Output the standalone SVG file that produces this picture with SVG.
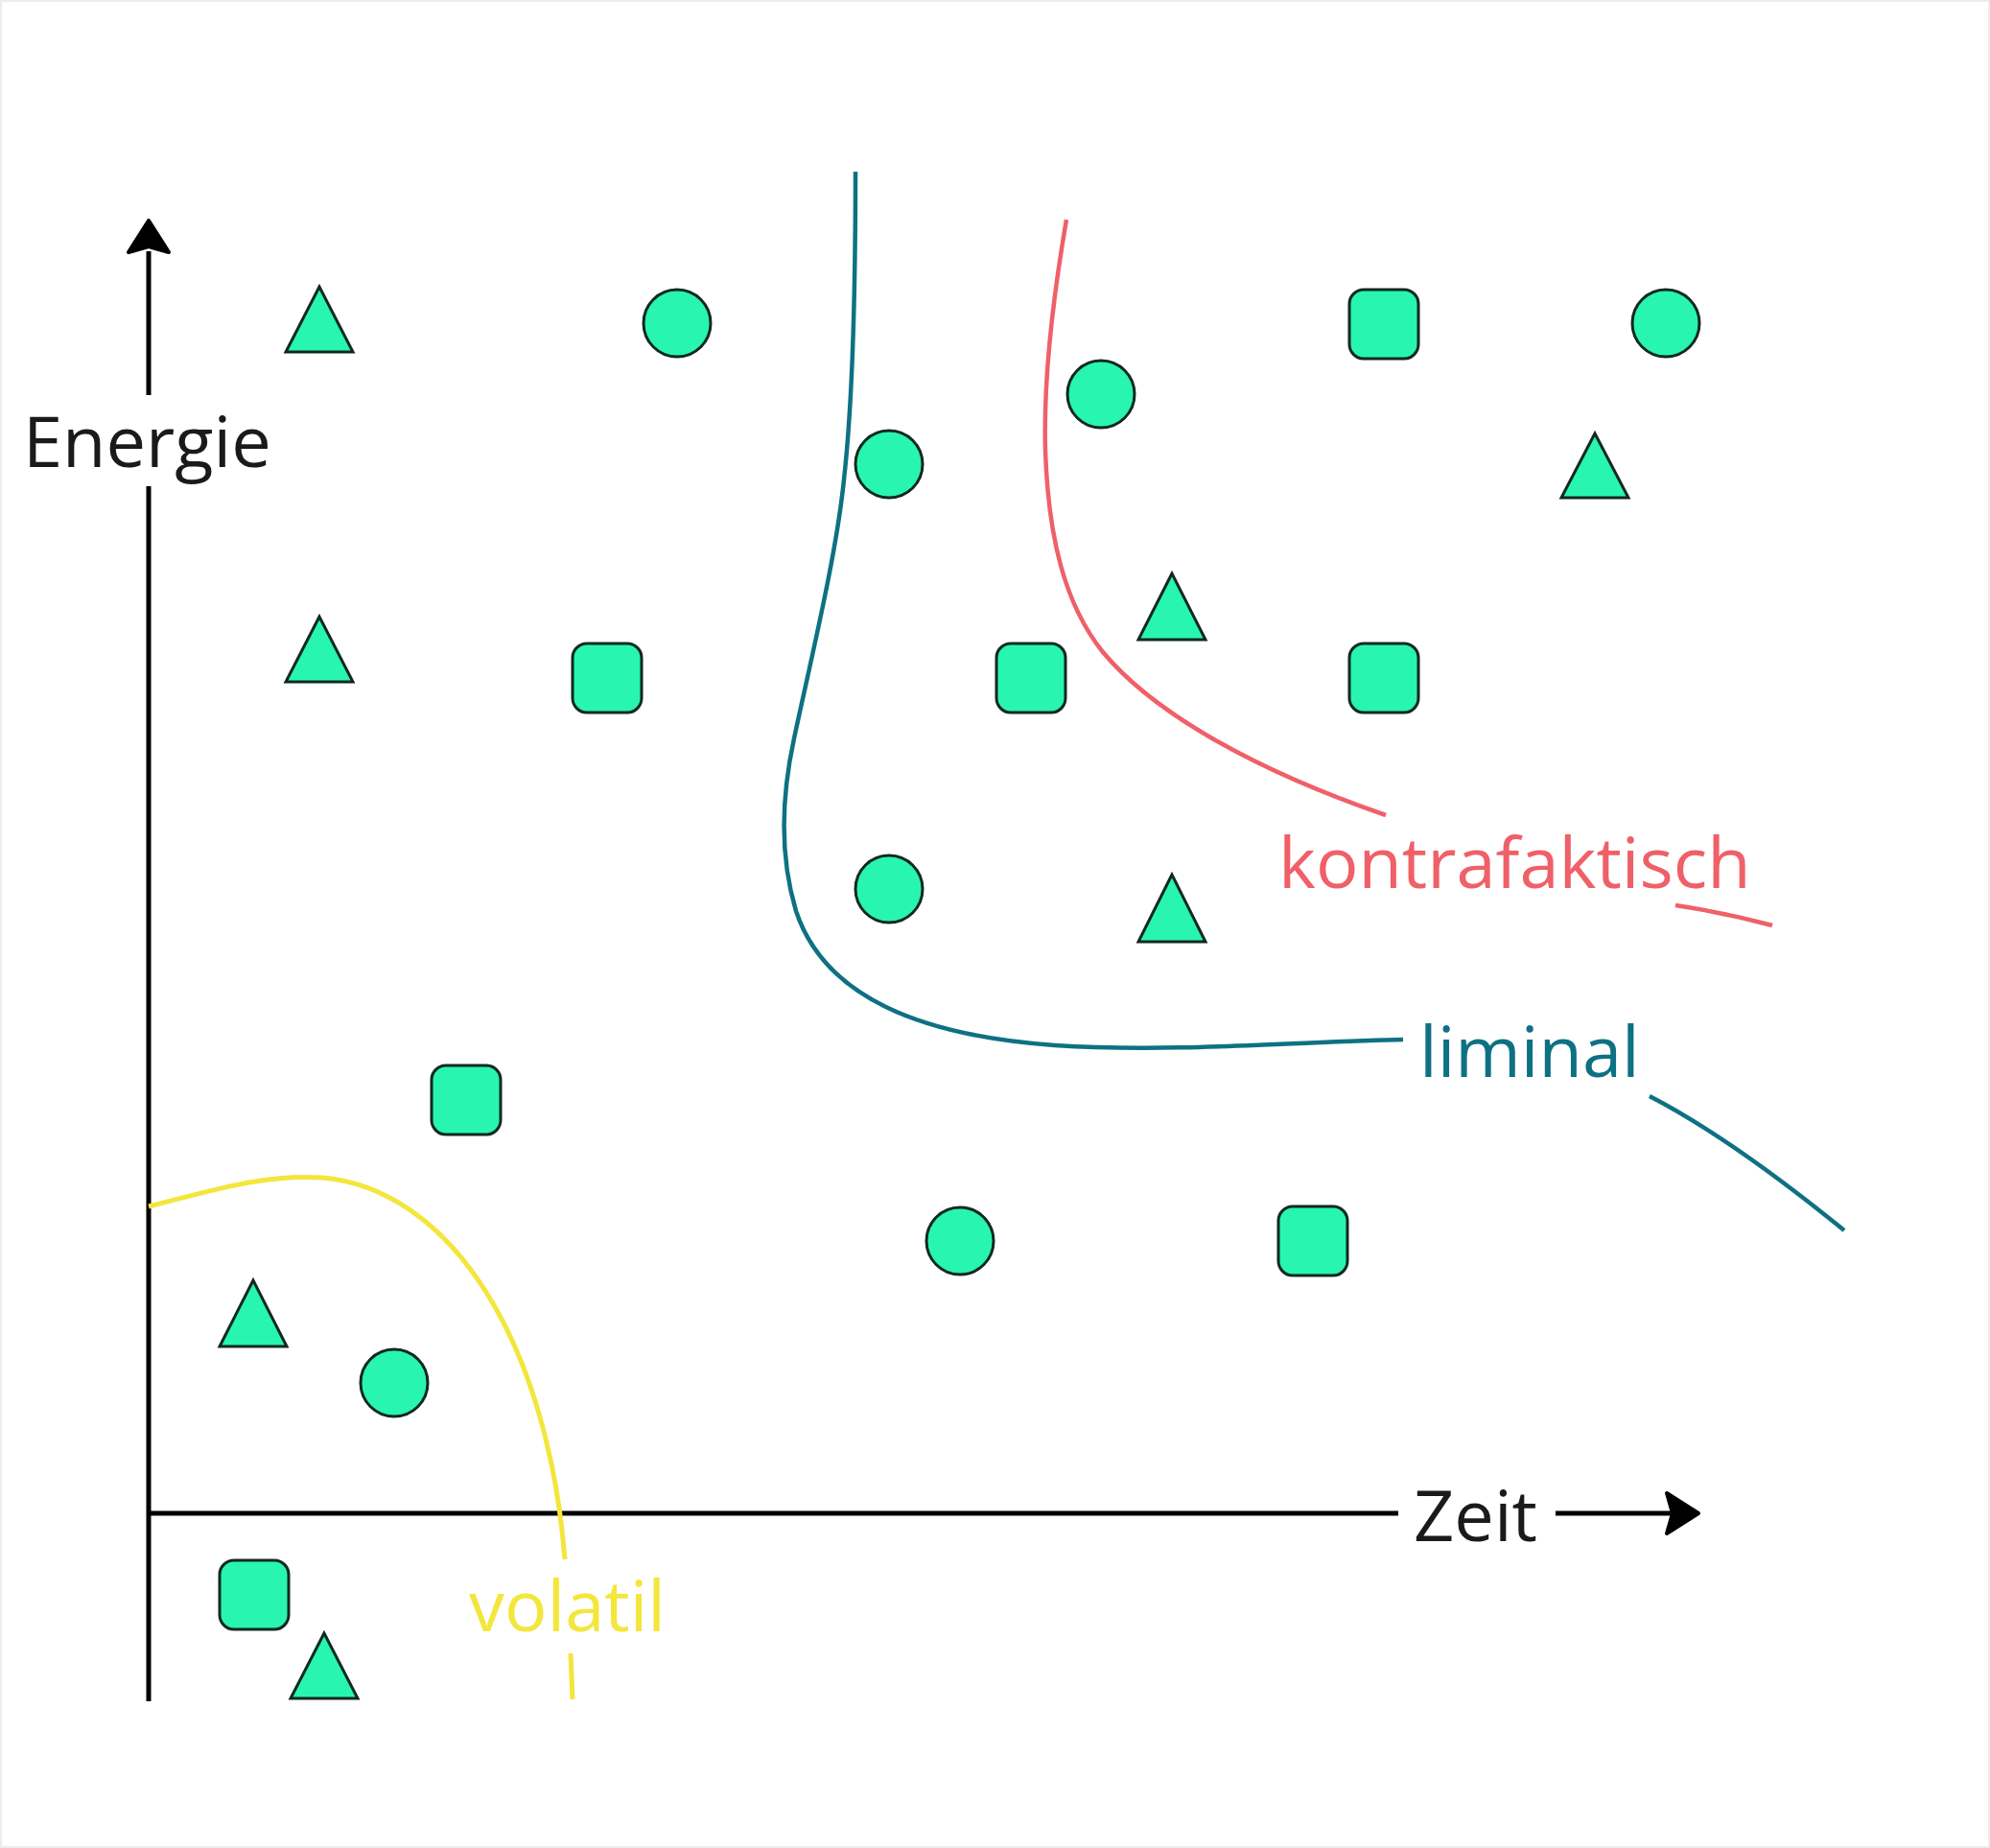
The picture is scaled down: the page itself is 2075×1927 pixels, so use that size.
<svg xmlns="http://www.w3.org/2000/svg" width="2075" height="1927" viewBox="0 0 2075 1927">
  <defs>
    <style>
      .tri, .cir, .sq { fill: #27f5b0; stroke: #10291f; stroke-width: 3; stroke-linejoin: miter; }
      .axis { stroke: #000; stroke-width: 5; fill: none; }
      .head { fill: #000; stroke: #000; stroke-width: 4; stroke-linejoin: round; }
      .lbl { font-family: "Open Sans", "Noto Sans", "Liberation Sans", sans-serif; font-size: 74px; }
      .teal { stroke: #0e7183; stroke-width: 4.5; fill: none; }
      .red { stroke: #ef6068; stroke-width: 4.5; fill: none; }
      .yellow { stroke: #f3e63c; stroke-width: 5; fill: none; }
    </style>
  </defs>
  <rect x="0" y="0" width="2075" height="1927" fill="#ffffff"/>
  <rect x="1" y="1" width="2073" height="1925" fill="none" stroke="#ececec" stroke-width="2"/>

  <g id="connectors">
    <!-- axes -->
    <path class="axis" d="M155,262 L155,412 M155,507 L155,1774"/>
    <path class="head" d="M155,230 L134,263 L155,257 L176,263 Z"/>
    <path class="axis" d="M153,1578 L1458,1578 M1622,1578 L1745,1578"/>
    <path class="head" d="M1771,1578 L1738,1557 L1744,1578 L1738,1599 Z"/>
    <!-- liminal boundary -->
    <path class="teal" d="M892,179 C892,300 889,420 880,500 C872,580 845,690 828,770 C815,830 812,890 830,950 C860,1040 960,1080 1100,1090 C1220,1098 1360,1086 1463,1084"/>
    <path class="teal" d="M1720,1143 Q1805,1187 1923,1283"/>
    <!-- kontrafaktisch boundary -->
    <path class="red" d="M1112,229 C1098,310 1088,400 1090,470 C1093,560 1110,630 1150,680 C1200,740 1300,800 1445,850"/>
    <path class="red" d="M1747,944 Q1800,952 1848,965"/>
    <!-- volatil boundary -->
    <path class="yellow" d="M155,1258 C225,1240 280,1224 335,1228 C465,1238 570,1390 589,1626"/>
    <path class="yellow" d="M595,1724 L597,1772"/>
  </g>

  <g id="labels">
    <text id="label-energie" class="lbl" x="24" y="487" fill="#1a1a1a">Energie</text>
    <text id="label-zeit" class="lbl" x="1474" y="1607" fill="#1a1a1a">Zeit</text>
    <text id="label-liminal" class="lbl" x="1480" y="1123" fill="#0e7183">liminal</text>
    <text id="label-kontrafaktisch" class="lbl" x="1333" y="926" fill="#ef6068">kontrafaktisch</text>
    <text id="label-volatil" class="lbl" x="489" y="1701" fill="#f3e63c">volatil</text>
  </g>

  <g id="triangles">
    <g id="tri1"><polygon class="tri" points="333,299 298,367 368,367"/></g>
    <g id="tri2"><polygon class="tri" points="333,643 298,711 368,711"/></g>
    <g id="tri3"><polygon class="tri" points="264,1335 229,1404 299,1404"/></g>
    <g id="tri4"><polygon class="tri" points="338,1703 303,1771 373,1771"/></g>
    <g id="tri5"><polygon class="tri" points="1222,598 1187,667 1257,667"/></g>
    <g id="tri6"><polygon class="tri" points="1222,912 1187,982 1257,982"/></g>
    <g id="tri7"><polygon class="tri" points="1663,452 1628,519 1698,519"/></g>
  </g>

  <g id="circles">
    <g id="cir1"><circle class="cir" cx="706" cy="337" r="35"/></g>
    <g id="cir2"><circle class="cir" cx="927" cy="484" r="35"/></g>
    <g id="cir3"><circle class="cir" cx="1148" cy="411" r="35"/></g>
    <g id="cir4"><circle class="cir" cx="1737" cy="337" r="35"/></g>
    <g id="cir5"><circle class="cir" cx="927" cy="927" r="35"/></g>
    <g id="cir6"><circle class="cir" cx="1001" cy="1294" r="35"/></g>
    <g id="cir7"><circle class="cir" cx="411" cy="1442" r="35"/></g>
  </g>

  <g id="squares">
    <g id="sq1"><rect class="sq" x="1407" y="302" width="72" height="72" rx="15"/></g>
    <g id="sq2"><rect class="sq" x="597" y="671" width="72" height="72" rx="15"/></g>
    <g id="sq3"><rect class="sq" x="1039" y="671" width="72" height="72" rx="15"/></g>
    <g id="sq4"><rect class="sq" x="1407" y="671" width="72" height="72" rx="15"/></g>
    <g id="sq5"><rect class="sq" x="450" y="1111" width="72" height="72" rx="15"/></g>
    <g id="sq6"><rect class="sq" x="1333" y="1258" width="72" height="72" rx="15"/></g>
    <g id="sq7"><rect class="sq" x="229" y="1627" width="72" height="72" rx="15"/></g>
  </g>
</svg>
